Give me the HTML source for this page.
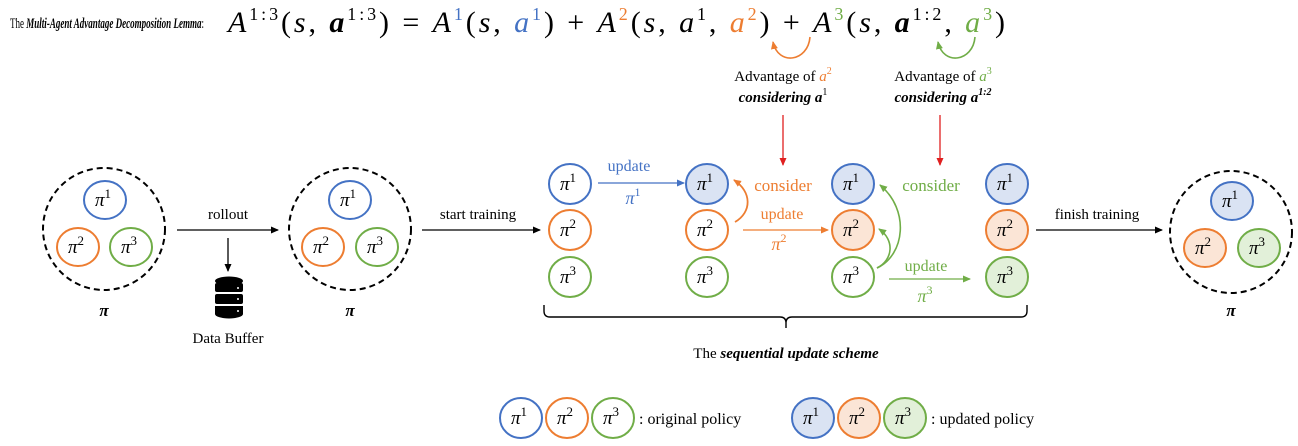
<!DOCTYPE html>
<html><head><meta charset="utf-8"><style>
html,body{margin:0;padding:0;background:#fff;}
svg{display:block;font-family:"Liberation Serif",serif;}
</style></head><body>
<svg width="1298" height="446" viewBox="0 0 1298 446" xmlns="http://www.w3.org/2000/svg">
<defs>
<marker id="ak" markerWidth="8" markerHeight="8" refX="7" refY="4" orient="auto" markerUnits="userSpaceOnUse"><path d="M0,0.5 L8,4 L0,7.5z" fill="#000"/></marker>
<marker id="ab" markerWidth="8" markerHeight="8" refX="7" refY="4" orient="auto" markerUnits="userSpaceOnUse"><path d="M0,0.5 L8,4 L0,7.5z" fill="#4472c4"/></marker>
<marker id="ao" markerWidth="8" markerHeight="8" refX="7" refY="4" orient="auto" markerUnits="userSpaceOnUse"><path d="M0,0.5 L8,4 L0,7.5z" fill="#ed7d31"/></marker>
<marker id="ag" markerWidth="8" markerHeight="8" refX="7" refY="4" orient="auto" markerUnits="userSpaceOnUse"><path d="M0,0.5 L8,4 L0,7.5z" fill="#70ad47"/></marker>
<marker id="ar" markerWidth="8" markerHeight="8" refX="7" refY="4" orient="auto" markerUnits="userSpaceOnUse"><path d="M0,0.5 L8,4 L0,7.5z" fill="#e02020"/></marker>
</defs>

<!-- title -->
<text x="10" y="28" font-size="15" textLength="194" lengthAdjust="spacingAndGlyphs">The <tspan font-weight="bold" font-style="italic">Multi-Agent Advantage Decomposition Lemma</tspan>:</text>
<text x="228" y="32" font-size="30" textLength="777" lengthAdjust="spacing"><tspan font-style="italic">A</tspan><tspan font-size="18" dy="-12">1:3</tspan><tspan dy="12">(</tspan><tspan font-style="italic">s</tspan>, <tspan font-weight="bold" font-style="italic">a</tspan><tspan font-size="18" dy="-12">1:3</tspan><tspan dy="12">) = </tspan><tspan font-style="italic">A</tspan><tspan font-size="18" dy="-12" fill="#4472c4">1</tspan><tspan dy="12">(</tspan><tspan font-style="italic">s</tspan>, <tspan font-style="italic" fill="#4472c4">a</tspan><tspan font-size="18" dy="-12" fill="#4472c4">1</tspan><tspan dy="12">) + </tspan><tspan font-style="italic">A</tspan><tspan font-size="18" dy="-12" fill="#ed7d31">2</tspan><tspan dy="12">(</tspan><tspan font-style="italic">s</tspan>, <tspan font-style="italic">a</tspan><tspan font-size="18" dy="-12">1</tspan><tspan dy="12">, </tspan><tspan font-style="italic" fill="#ed7d31">a</tspan><tspan font-size="18" dy="-12" fill="#ed7d31">2</tspan><tspan dy="12">) + </tspan><tspan font-style="italic">A</tspan><tspan font-size="18" dy="-12" fill="#70ad47">3</tspan><tspan dy="12">(</tspan><tspan font-style="italic">s</tspan>, <tspan font-weight="bold" font-style="italic">a</tspan><tspan font-size="18" dy="-12">1:2</tspan><tspan dy="12">, </tspan><tspan font-style="italic" fill="#70ad47">a</tspan><tspan font-size="18" dy="-12" fill="#70ad47">3</tspan><tspan dy="12">)</tspan></text>

<!-- small arcs -->
<path d="M810,37 C808,62 778,66 773,42" fill="none" stroke="#ed7d31" stroke-width="1.6" marker-end="url(#ao)"/>
<path d="M975,37 C973,62 943,66 938,42" fill="none" stroke="#70ad47" stroke-width="1.6" marker-end="url(#ag)"/>

<g font-size="15" text-anchor="middle">
<text x="783" y="81">Advantage of <tspan font-style="italic" fill="#ed7d31">a</tspan><tspan font-size="10" dy="-7" fill="#ed7d31">2</tspan></text>
<text x="783" y="102" font-weight="bold" font-style="italic">considering a<tspan font-size="10" dy="-7" font-weight="normal" font-style="normal">1</tspan></text>
<text x="943" y="81">Advantage of <tspan font-style="italic" fill="#70ad47">a</tspan><tspan font-size="10" dy="-7" fill="#70ad47">3</tspan></text>
<text x="943" y="102" font-weight="bold" font-style="italic">considering a<tspan font-size="10" dy="-7">1:2</tspan></text>
</g>
<line x1="783" y1="115" x2="783" y2="165" stroke="#e02020" stroke-width="1.3" marker-end="url(#ar)"/>
<line x1="940" y1="115" x2="940" y2="165" stroke="#e02020" stroke-width="1.3" marker-end="url(#ar)"/>

<!-- dashed groups -->
<g fill="none" stroke="#000" stroke-width="2" stroke-dasharray="6,4">
<circle cx="104" cy="229" r="61"/>
<circle cx="350" cy="229" r="61"/>
<circle cx="1231" cy="232" r="61"/>
</g>
<g font-size="17" font-weight="bold" font-style="italic" text-anchor="middle">
<text x="104" y="316">π</text><text x="350" y="316">π</text><text x="1231" y="316">π</text>
</g>

<!-- policy circles -->
<g stroke-width="2">
<ellipse cx="105" cy="200" rx="21" ry="19" fill="#fff" stroke="#4472c4"/>
<ellipse cx="78" cy="247" rx="21" ry="19" fill="#fff" stroke="#ed7d31"/>
<ellipse cx="131" cy="247" rx="21" ry="19" fill="#fff" stroke="#70ad47"/>
<ellipse cx="350" cy="200" rx="21" ry="19" fill="#fff" stroke="#4472c4"/>
<ellipse cx="323" cy="247" rx="21" ry="19" fill="#fff" stroke="#ed7d31"/>
<ellipse cx="377" cy="247" rx="21" ry="19" fill="#fff" stroke="#70ad47"/>
<ellipse cx="1232" cy="201" rx="21" ry="19" fill="#dae3f3" stroke="#4472c4"/>
<ellipse cx="1205" cy="248" rx="21" ry="19" fill="#fbe5d6" stroke="#ed7d31"/>
<ellipse cx="1259" cy="248" rx="21" ry="19" fill="#e2f0d9" stroke="#70ad47"/>
<ellipse cx="570" cy="184" rx="21" ry="20" fill="#fff" stroke="#4472c4"/>
<ellipse cx="570" cy="230" rx="21" ry="20" fill="#fff" stroke="#ed7d31"/>
<ellipse cx="570" cy="277" rx="21" ry="20" fill="#fff" stroke="#70ad47"/>
<ellipse cx="707" cy="184" rx="21" ry="20" fill="#dae3f3" stroke="#4472c4"/>
<ellipse cx="707" cy="230" rx="21" ry="20" fill="#fff" stroke="#ed7d31"/>
<ellipse cx="707" cy="277" rx="21" ry="20" fill="#fff" stroke="#70ad47"/>
<ellipse cx="853" cy="184" rx="21" ry="20" fill="#dae3f3" stroke="#4472c4"/>
<ellipse cx="853" cy="230" rx="21" ry="20" fill="#fbe5d6" stroke="#ed7d31"/>
<ellipse cx="853" cy="277" rx="21" ry="20" fill="#fff" stroke="#70ad47"/>
<ellipse cx="1007" cy="184" rx="21" ry="20" fill="#dae3f3" stroke="#4472c4"/>
<ellipse cx="1007" cy="230" rx="21" ry="20" fill="#fbe5d6" stroke="#ed7d31"/>
<ellipse cx="1007" cy="277" rx="21" ry="20" fill="#e2f0d9" stroke="#70ad47"/>
<ellipse cx="521" cy="418" rx="21" ry="20" fill="#fff" stroke="#4472c4"/>
<ellipse cx="567" cy="418" rx="21" ry="20" fill="#fff" stroke="#ed7d31"/>
<ellipse cx="613" cy="418" rx="21" ry="20" fill="#fff" stroke="#70ad47"/>
<ellipse cx="813" cy="418" rx="21" ry="20" fill="#dae3f3" stroke="#4472c4"/>
<ellipse cx="859" cy="418" rx="21" ry="20" fill="#fbe5d6" stroke="#ed7d31"/>
<ellipse cx="905" cy="418" rx="21" ry="20" fill="#e2f0d9" stroke="#70ad47"/>
</g>
<g font-size="19" font-style="italic" text-anchor="middle" fill="#000">
<text x="103" y="206">π<tspan font-size="13" font-style="normal" dy="-8">1</tspan></text>
<text x="76" y="253">π<tspan font-size="13" font-style="normal" dy="-8">2</tspan></text>
<text x="129" y="253">π<tspan font-size="13" font-style="normal" dy="-8">3</tspan></text>
<text x="348" y="206">π<tspan font-size="13" font-style="normal" dy="-8">1</tspan></text>
<text x="321" y="253">π<tspan font-size="13" font-style="normal" dy="-8">2</tspan></text>
<text x="375" y="253">π<tspan font-size="13" font-style="normal" dy="-8">3</tspan></text>
<text x="1230" y="207">π<tspan font-size="13" font-style="normal" dy="-8">1</tspan></text>
<text x="1203" y="254">π<tspan font-size="13" font-style="normal" dy="-8">2</tspan></text>
<text x="1257" y="254">π<tspan font-size="13" font-style="normal" dy="-8">3</tspan></text>
<text x="568" y="190">π<tspan font-size="13" font-style="normal" dy="-8">1</tspan></text>
<text x="568" y="236">π<tspan font-size="13" font-style="normal" dy="-8">2</tspan></text>
<text x="568" y="283">π<tspan font-size="13" font-style="normal" dy="-8">3</tspan></text>
<text x="705" y="190">π<tspan font-size="13" font-style="normal" dy="-8">1</tspan></text>
<text x="705" y="236">π<tspan font-size="13" font-style="normal" dy="-8">2</tspan></text>
<text x="705" y="283">π<tspan font-size="13" font-style="normal" dy="-8">3</tspan></text>
<text x="851" y="190">π<tspan font-size="13" font-style="normal" dy="-8">1</tspan></text>
<text x="851" y="236">π<tspan font-size="13" font-style="normal" dy="-8">2</tspan></text>
<text x="851" y="283">π<tspan font-size="13" font-style="normal" dy="-8">3</tspan></text>
<text x="1005" y="190">π<tspan font-size="13" font-style="normal" dy="-8">1</tspan></text>
<text x="1005" y="236">π<tspan font-size="13" font-style="normal" dy="-8">2</tspan></text>
<text x="1005" y="283">π<tspan font-size="13" font-style="normal" dy="-8">3</tspan></text>
<text x="519" y="424">π<tspan font-size="13" font-style="normal" dy="-8">1</tspan></text>
<text x="565" y="424">π<tspan font-size="13" font-style="normal" dy="-8">2</tspan></text>
<text x="611" y="424">π<tspan font-size="13" font-style="normal" dy="-8">3</tspan></text>
<text x="811" y="424">π<tspan font-size="13" font-style="normal" dy="-8">1</tspan></text>
<text x="857" y="424">π<tspan font-size="13" font-style="normal" dy="-8">2</tspan></text>
<text x="903" y="424">π<tspan font-size="13" font-style="normal" dy="-8">3</tspan></text>
</g>
<g font-size="16">
<text x="639" y="424">: original policy</text>
<text x="931" y="424">: updated policy</text>
</g>

<!-- black arrows -->
<g stroke="#000" stroke-width="1.3" fill="none">
<line x1="177" y1="230" x2="278" y2="230" marker-end="url(#ak)"/>
<line x1="228" y1="238" x2="228" y2="271" marker-end="url(#ak)"/>
<line x1="422" y1="230" x2="540" y2="230" marker-end="url(#ak)"/>
<line x1="1036" y1="230" x2="1162" y2="230" marker-end="url(#ak)"/>
</g>
<g font-size="15" text-anchor="middle">
<text x="228" y="219">rollout</text>
<text x="478" y="219">start training</text>
<text x="1097" y="219">finish training</text>
<text x="228" y="343">Data Buffer</text>
<text x="786" y="358">The <tspan font-weight="bold" font-style="italic">sequential update scheme</tspan></text>
</g>
<!-- database icon -->
<g fill="#000">
<ellipse cx="229" cy="281" rx="14" ry="4.5"/>
<rect x="215" y="283" width="28" height="9" rx="2"/>
<rect x="215" y="294" width="28" height="10" rx="2"/>
<path d="M215,306 h28 v8 a14,4.5 0 0 1 -28,0z"/>
</g>
<g fill="#fff"><circle cx="238" cy="288" r="1"/><circle cx="238" cy="299" r="1"/><circle cx="238" cy="311" r="1"/></g>

<!-- update arrows -->
<line x1="598" y1="183" x2="684" y2="183" stroke="#4472c4" stroke-width="1.3" marker-end="url(#ab)"/>
<line x1="743" y1="230" x2="828" y2="230" stroke="#ed7d31" stroke-width="1.3" marker-end="url(#ao)"/>
<line x1="889" y1="279" x2="970" y2="279" stroke="#70ad47" stroke-width="1.3" marker-end="url(#ag)"/>
<path d="M735,222 C752,212 752,192 734,180" fill="none" stroke="#ed7d31" stroke-width="1.8" marker-end="url(#ao)"/>
<path d="M877,268 C905,255 910,210 880,185" fill="none" stroke="#70ad47" stroke-width="1.6" marker-end="url(#ag)"/>
<path d="M877,268 C893,260 895,240 879,229" fill="none" stroke="#70ad47" stroke-width="1.6" marker-end="url(#ag)"/>
<g font-size="16" text-anchor="middle">
<text x="629" y="171" fill="#4472c4">update</text>
<text x="633" y="204" fill="#4472c4" font-style="italic" font-size="18">π<tspan font-size="12" font-style="normal" dy="-8">1</tspan></text>
<text x="783" y="191" fill="#ed7d31" font-size="17">consider</text>
<text x="782" y="219" fill="#ed7d31">update</text>
<text x="779" y="250" fill="#ed7d31" font-style="italic" font-size="18">π<tspan font-size="12" font-style="normal" dy="-8">2</tspan></text>
<text x="931" y="191" fill="#70ad47" font-size="17">consider</text>
<text x="926" y="271" fill="#70ad47">update</text>
<text x="925" y="302" fill="#70ad47" font-style="italic" font-size="18">π<tspan font-size="12" font-style="normal" dy="-8">3</tspan></text>
</g>
<!-- brace -->
<path d="M544,305 v6 q0,6 6,6 H780 q6,0 6,6 v5 v-5 q0,-6 6,-6 H1021 q6,0 6,-6 v-6" fill="none" stroke="#000" stroke-width="1.4"/>
</svg>
</body></html>
